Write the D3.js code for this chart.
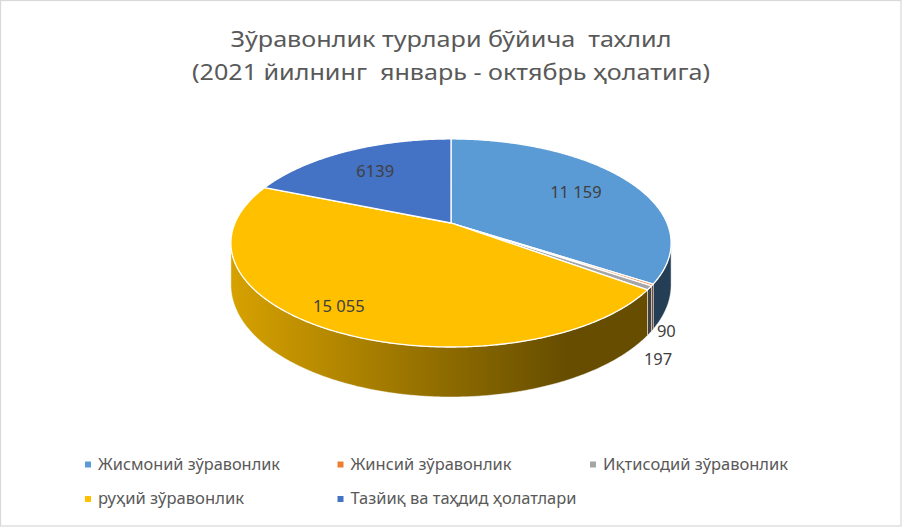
<!DOCTYPE html>
<html><head><meta charset="utf-8">
<script src="https://cdn.jsdelivr.net/npm/d3@7"></script>
<style>
body{margin:0;background:#fff}
svg{display:block}
text{white-space:pre;font-family:"Noto Sans","Open Sans","DejaVu Sans",sans-serif}
</style>
</head><body>
<svg id="chart" width="902" height="527"></svg>
<script>
// ---- data ----
const categories = ["Жисмоний зўравонлик","Жинсий зўравонлик","Иқтисодий зўравонлик","руҳий зўравонлик","Тазйиқ ва таҳдид ҳолатлари"];
const values = [11159, 90, 197, 15055, 6139];
const valueLabels = ["11 159","90","197","15 055","6139"];
const colors = ["#5B9BD5","#ED7D31","#A5A5A5","#FFC000","#4472C4"];
const titleLines = ["Зўравонлик турлари бўйича  тахлил","(2021 йилнинг  январь - октябрь ҳолатига)"];

// ---- layout ----
const W = 902, H = 527;
const cx = 451, cy = 223;      // projected pie centre
const A = 216, B = 100.2;      // ellipse radii (before perspective)
const K = 0.192;               // perspective strength
const DEPTH = 40.4;            // extrusion height
const labelPlacement = [
  {r:0.7, da:0}, {out:[14,0]}, {out:[8.5,25]}, {r:0.84, da:3}, {r:0.7, da:0}
];
const titleWidths = [441, 518];
const legendWidths = [182, 161, 185, 146, 226];

const svg = d3.select("#chart");
svg.append("rect").attr("x",0.5).attr("y",0.5).attr("width",W-1.5).attr("height",H-1.5)
  .attr("fill","#fff").attr("stroke","#D9D9D9").attr("stroke-width",1.25);

function proj(phi, r){
  const u = r*Math.sin(phi), v = -r*Math.cos(phi);
  const den = 1 - K*v;
  return [cx + A*u/den, cy + B*v/den, den];
}
function bottom(phi){
  const p = proj(phi,1);
  return [p[0], p[1] + DEPTH/p[2]];
}
function arcPts(a0, a1, f){
  const n = Math.max(2, Math.ceil(Math.abs(a1-a0)/(Math.PI/360)));
  const pts = [];
  for(let i=0;i<=n;i++){ pts.push(f(a0 + (a1-a0)*i/n)); }
  return pts;
}
function scaleColor(c, k){
  const r = d3.rgb(c);
  return d3.rgb(r.r*k, r.g*k, r.b*k).formatHex();
}

const pie = d3.pie().sort(null).value(d=>d).startAngle(0).endAngle(2*Math.PI);
const arcs = pie(values);

const defs = svg.append("defs");
const shadeX = d3.scaleLinear().domain([0,1]).range([232, 566]);
colors.forEach((c,i)=>{
  const g = defs.append("linearGradient").attr("id","side"+i)
    .attr("gradientUnits","userSpaceOnUse")
    .attr("x1",shadeX(0)).attr("x2",shadeX(1)).attr("y1",0).attr("y2",0);
  g.append("stop").attr("offset",0).attr("stop-color",scaleColor(c,0.84));
  g.append("stop").attr("offset",1).attr("stop-color",scaleColor(c,0.40));
});

// ---- side walls (front-facing part only) ----
const silL = Math.acos(-K), silR = 2*Math.PI - silL;
const line = d3.line();
const gSide = svg.append("g");
arcs.forEach((a,i)=>{
  const a0 = Math.max(a.startAngle, silL), a1 = Math.min(a.endAngle, silR);
  if(a0 >= a1) return;
  const top = arcPts(a0, a1, p=>proj(p,1).slice(0,2));
  const bot = arcPts(a1, a0, bottom);
  gSide.append("path").attr("d", line(top.concat(bot)) + "Z")
    .attr("fill","url(#side"+i+")")
    .attr("stroke","#ffffff").attr("stroke-width",0.6).attr("stroke-opacity",0.8);
});

// ---- top faces ----
const gTop = svg.append("g");
arcs.forEach((a,i)=>{
  const pts = [[cx,cy]].concat(arcPts(a.startAngle, a.endAngle, p=>proj(p,1).slice(0,2)));
  gTop.append("path").attr("d", line(pts) + "Z")
    .attr("fill", colors[i])
    .attr("stroke","#ffffff").attr("stroke-width",1.3).attr("stroke-linejoin","round");
});

// ---- data labels ----
const gLab = svg.append("g");
arcs.forEach((a,i)=>{
  const lp = labelPlacement[i];
  const mid = (a.startAngle + a.endAngle)/2;
  let x, y;
  if(lp.out){
    const b = bottom(mid);
    x = b[0] + lp.out[0]; y = b[1] + lp.out[1];
  } else {
    const p = proj(mid + lp.da*Math.PI/180, lp.r);
    x = p[0]; y = p[1];
  }
  gLab.append("text").attr("x",x).attr("y",y)
    .attr("text-anchor","middle").attr("dominant-baseline","central")
    .attr("font-size",16.5).attr("fill","#404040").text(valueLabels[i]);
});

// ---- title ----
const titleY = [47, 80];
titleLines.forEach((t,i)=>{
  svg.append("text").attr("x",451).attr("y",titleY[i])
    .attr("text-anchor","middle").attr("font-size",22.4).attr("fill","#595959")
    .attr("textLength",titleWidths[i]).attr("lengthAdjust","spacingAndGlyphs")
    .text(t);
});

// ---- legend ----
const legX = d3.scaleLinear().domain([0,1]).range([85, 337.5]);
const rowY = [464.5, 499];
const gLeg = svg.append("g");
categories.forEach((c,i)=>{
  const col = i<3 ? i : i-3, row = i<3 ? 0 : 1;
  const x = legX(col), y = rowY[row];
  gLeg.append("rect").attr("x",x).attr("y",y-3).attr("width",6).attr("height",6).attr("fill",colors[i]);
  gLeg.append("text").attr("x",x+13).attr("y",y+5.2)
    .attr("font-size",15.4).attr("fill","#595959")
    .attr("textLength",legendWidths[i]).attr("lengthAdjust","spacingAndGlyphs")
    .text(c);
});
</script>
</body></html>
